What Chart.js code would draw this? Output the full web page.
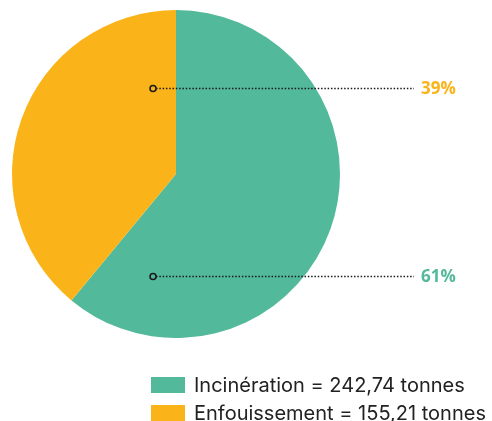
<!DOCTYPE html>
<html><head><meta charset="utf-8">
<script src="https://cdn.jsdelivr.net/npm/chart.js@4/dist/chart.umd.min.js"></script>
<style>html,body{margin:0;padding:0;background:#fff;}#wrap{width:492px;height:421px;position:relative;}</style>
</head><body><div id="wrap"><canvas id="c" width="492" height="421"></canvas></div>
<script>
const categories = ["Incinération", "Enfouissement"];
const tonnes = [242.74, 155.21];
const tonnesLabels = ["242,74", "155,21"];
const percentLabels = ["61%", "39%"];
const colors = ["#53B99B", "#FAB419"];

const overlay = {
  id: 'overlay',
  afterDraw(chart) {
    const ctx = chart.ctx;
    const meta = chart.getDatasetMeta(0);
    const arc = meta.data[0];
    const cx = arc.x, cy = arc.y, r = arc.outerRadius;
    const callouts = [
      {i: 1, y: cy - 0.524 * r},
      {i: 0, y: cy + 0.622 * r}
    ];
    ctx.save();
    callouts.forEach(c => {
      const x0 = cx - 0.14 * r;
      const x1 = 414;
      const yy = Math.round(c.y) + 0.5;
      ctx.strokeStyle = '#1a1a1a';
      ctx.lineWidth = 1.3;
      ctx.setLineDash([1.5, 1.8]);
      ctx.beginPath();
      ctx.moveTo(x0 + 3, yy);
      ctx.lineTo(x1, yy);
      ctx.stroke();
      ctx.setLineDash([]);
      ctx.lineWidth = 1.6;
      ctx.beginPath();
      ctx.arc(x0, yy, 3, 0, Math.PI * 2);
      ctx.stroke();
      ctx.fillStyle = colors[c.i];
      ctx.font = 'bold 17px "Open Sans"';
      ctx.textBaseline = 'middle';
      ctx.textAlign = 'left';
      ctx.fillText(percentLabels[c.i], 421, yy + 0.5);
    });
    const lx = 151, ly = 377, rowH = 28;
    categories.forEach((cat, i) => {
      const y = ly + i * rowH;
      ctx.fillStyle = colors[i];
      ctx.fillRect(lx, y, 34, 16);
      ctx.fillStyle = '#222';
      ctx.font = '20px "Inter"';
      ctx.textBaseline = 'alphabetic';
      ctx.fillText(cat + ' = ' + tonnesLabels[i] + ' tonnes', 194, y + 14.5);
    });
    ctx.restore();
  }
};

new Chart(document.getElementById('c'), {
  type: 'pie',
  data: {
    labels: categories,
    datasets: [{
      data: tonnes,
      backgroundColor: colors,
      borderWidth: 0,
      hoverOffset: 0
    }]
  },
  options: {
    responsive: false,
    animation: false,
    layout: {padding: {left: 12, top: 10, right: 152, bottom: 83}},
    plugins: {legend: {display: false}, tooltip: {enabled: false}}
  },
  plugins: [overlay]
});
</script></body></html>
